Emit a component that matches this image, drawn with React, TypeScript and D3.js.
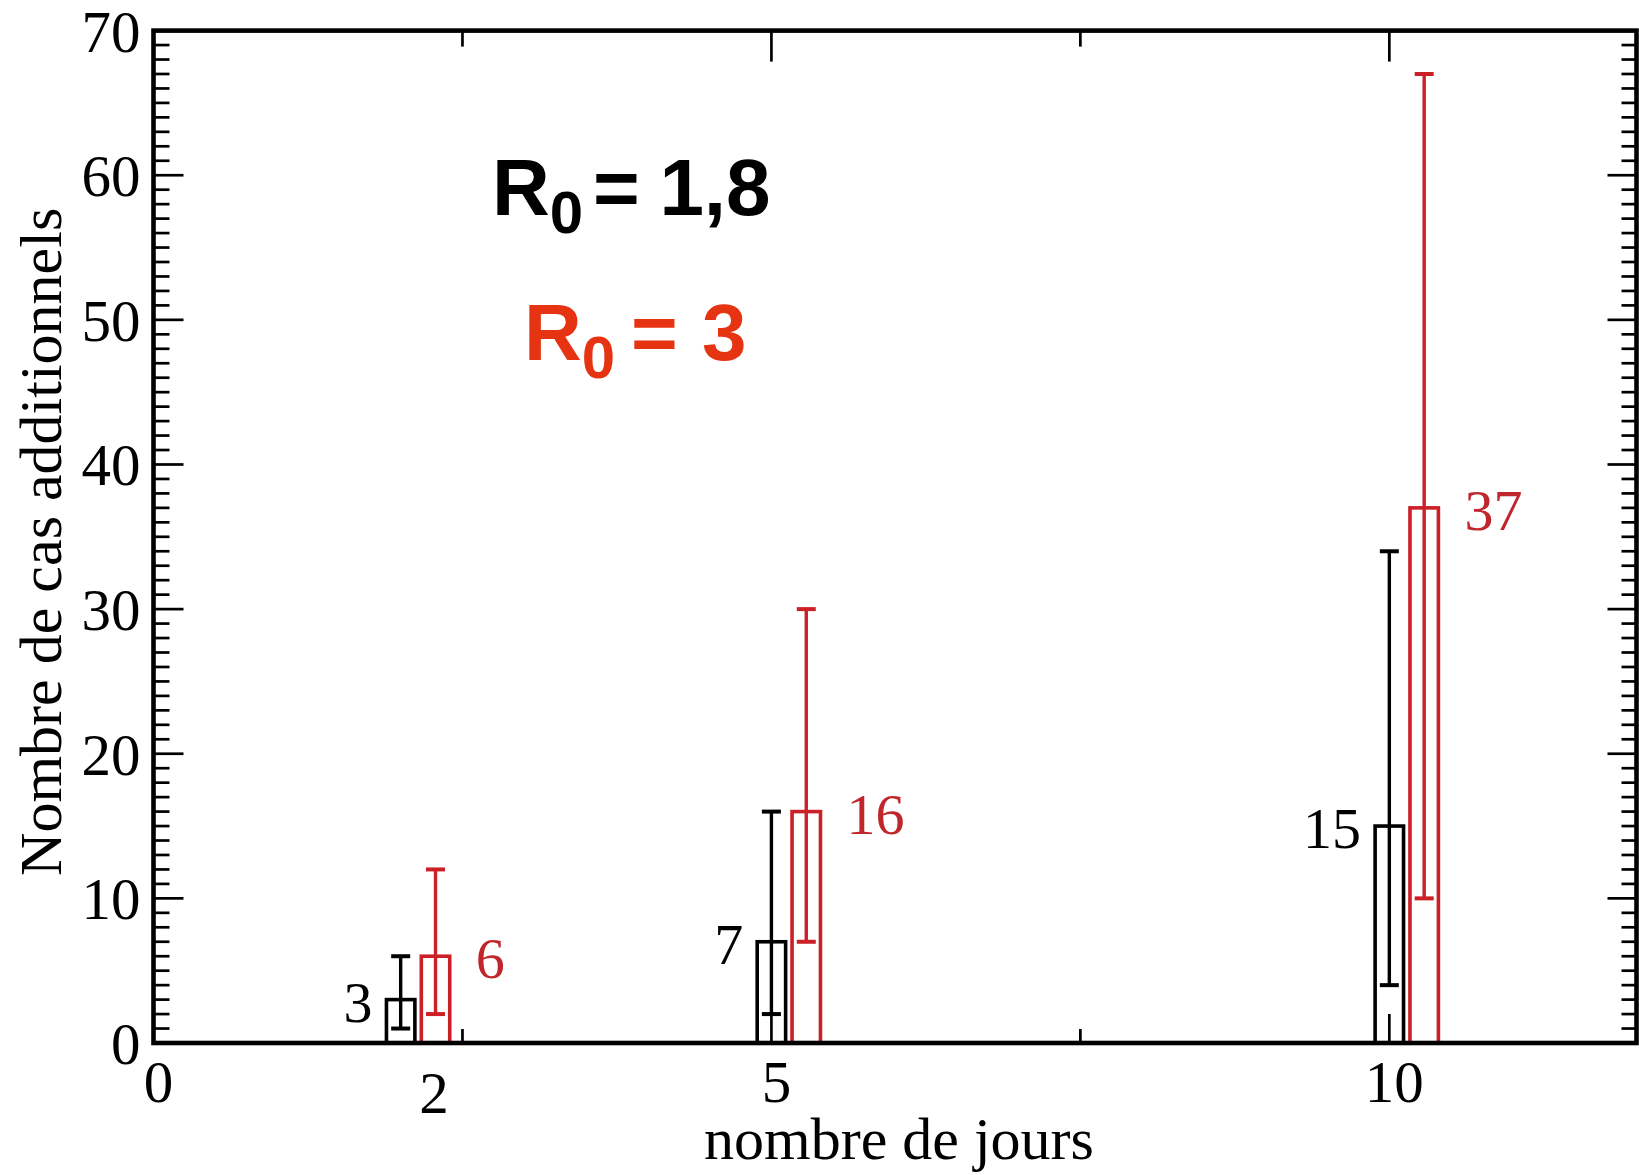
import React from "react";
import * as d3 from "d3";

// ---- data ----
const days = [2, 5, 10];
const r18Values = [3, 7, 15];
const r18Low = [1, 2, 4];
const r18High = [6, 16, 34];
const r3Values = [6, 16, 37];
const r3Low = [2, 7, 10];
const r3High = [12, 30, 67];

const yMajorTicks = [0, 10, 20, 30, 40, 50, 60, 70];
const yMinorTicks = d3.range(0, 71, 1).filter((v) => v % 10 !== 0);
const xMajorTicks = [0, 5, 10];
const xMinorTicks = [2.5, 7.5];
const xTickLabels = ["0", "2", "5", "10"];
const xTickLabelPos = [0, 2.27, 5, 10];

const W = 1639;
const H = 1175;
const BLACK = "#000000";
const RED = "#cc2027";
const RED_TEXT = "#c0272d";
const RED_R0 = "#e63312";
const SERIF = "'Liberation Serif', 'Times New Roman', serif";
const SANS = "'Liberation Sans', Arial, sans-serif";

export default function App() {
  const x = d3.scaleLinear().domain([0, 12]).range([153.5, 1636.5]);
  const y = d3.scaleLinear().domain([0, 70]).range([1043, 30.6]);
  const [x0, x1] = x.range();
  const [y0, y1] = y.range();

  const barW = x(0.23) - x(0);
  const capW = 19;

  const series = [
    { values: r18Values, low: r18Low, high: r18High, offset: 0, color: BLACK, labelColor: BLACK, side: "left" },
    { values: r3Values, low: r3Low, high: r3High, offset: 0.282, color: RED, labelColor: RED_TEXT, side: "right" },
  ];

  return (
    <svg
      width={W}
      height={H}
      style={{ position: "absolute", left: 0, top: 0, background: "#fff" }}
      xmlns="http://www.w3.org/2000/svg"
    >
      <rect x={0} y={0} width={W} height={H} fill="#fff" />

      {/* ticks left/right/top/bottom */}
      <g stroke={BLACK} strokeWidth={2.7}>
        {yMajorTicks.map((v) => (
          <g key={"ym" + v}>
            <line x1={x0} x2={x0 + 30} y1={y(v)} y2={y(v)} />
            <line x1={x1} x2={x1 - 29} y1={y(v)} y2={y(v)} />
          </g>
        ))}
        {yMinorTicks.map((v) => (
          <g key={"yn" + v}>
            <line x1={x0} x2={x0 + 16} y1={y(v)} y2={y(v)} />
            <line x1={x1} x2={x1 - 15} y1={y(v)} y2={y(v)} />
          </g>
        ))}
        {xMajorTicks.map((v) => (
          <g key={"xm" + v}>
            <line x1={x(v)} x2={x(v)} y1={y0} y2={y0 - 29} />
            <line x1={x(v)} x2={x(v)} y1={y1} y2={y1 + 31} />
          </g>
        ))}
        {xMinorTicks.map((v) => (
          <g key={"xn" + v}>
            <line x1={x(v)} x2={x(v)} y1={y0} y2={y0 - 14} />
            <line x1={x(v)} x2={x(v)} y1={y1} y2={y1 + 16} />
          </g>
        ))}
      </g>

      {/* bars + error bars */}
      {series.map((s, si) => (
        <g key={"s" + si}>
          {days.map((d, i) => {
            const cx = x(d + s.offset);
            const top = y(s.values[i]);
            return (
              <g key={"b" + i}>
                <rect
                  x={cx - barW / 2}
                  y={top}
                  width={barW}
                  height={y(0) - top}
                  fill="none"
                  stroke={s.color}
                  strokeWidth={3.6}
                />
                <line x1={cx} x2={cx} y1={y(s.low[i])} y2={y(s.high[i])} stroke={s.color} strokeWidth={3.4} />
                <line x1={cx - capW / 2} x2={cx + capW / 2} y1={y(s.low[i])} y2={y(s.low[i])} stroke={s.color} strokeWidth={4} />
                <line x1={cx - capW / 2} x2={cx + capW / 2} y1={y(s.high[i])} y2={y(s.high[i])} stroke={s.color} strokeWidth={4} />
                <text
                  x={s.side === "left" ? cx - barW / 2 - 14 : cx + barW / 2 + 26}
                  y={top + 22}
                  textAnchor={s.side === "left" ? "end" : "start"}
                  fontFamily={SERIF}
                  fontSize={58}
                  fill={s.labelColor}
                >
                  {s.values[i]}
                </text>
              </g>
            );
          })}
        </g>
      ))}

      {/* frame */}
      <rect x={x0} y={y1} width={x1 - x0} height={y0 - y1} fill="none" stroke={BLACK} strokeWidth={4.6} />

      {/* y tick labels */}
      {yMajorTicks.map((v) => (
        <text key={"yl" + v} x={x0 - 13} y={y(v) + 21} textAnchor="end" fontFamily={SERIF} fontSize={59} fill={BLACK}>
          {v}
        </text>
      ))}

      {/* x tick labels */}
      {xTickLabels.map((t, i) => (
        <text
          key={"xl" + t}
          x={x(xTickLabelPos[i]) + (t === "2" ? 0 : 5)}
          y={y0 + (t === "2" ? 70 : 59)}
          textAnchor="middle"
          fontFamily={SERIF}
          fontSize={59}
          fill={BLACK}
        >
          {t}
        </text>
      ))}

      {/* axis titles */}
      <text x={(x0 + x1) / 2 + 4} y={1159} textAnchor="middle" fontFamily={SERIF} fontSize={60} fill={BLACK}>
        nombre de jours
      </text>
      <text
        transform={`translate(61, ${(y0 + y1) / 2 + 5}) rotate(-90)`}
        textAnchor="middle"
        fontFamily={SERIF}
        fontSize={60}
        fill={BLACK}
      >
        Nombre de cas additionnels
      </text>

      {/* R0 annotations */}
      <text x={492} y={215} fontFamily={SANS} fontWeight="bold" fontSize={80} fill={BLACK}>
        <tspan>R</tspan>
        <tspan dy={18} fontSize={60}>0</tspan>
        <tspan dy={-18} dx={9.8}>=</tspan>
        <tspan dx={19.7}>1,8</tspan>
      </text>
      <text x={524} y={360} fontFamily={SANS} fontWeight="bold" fontSize={80} fill={RED_R0}>
        <tspan>R</tspan>
        <tspan dy={18} fontSize={60}>0</tspan>
        <tspan dy={-18} dx={15.8}>=</tspan>
        <tspan dx={24.3}>3</tspan>
      </text>
    </svg>
  );
}
